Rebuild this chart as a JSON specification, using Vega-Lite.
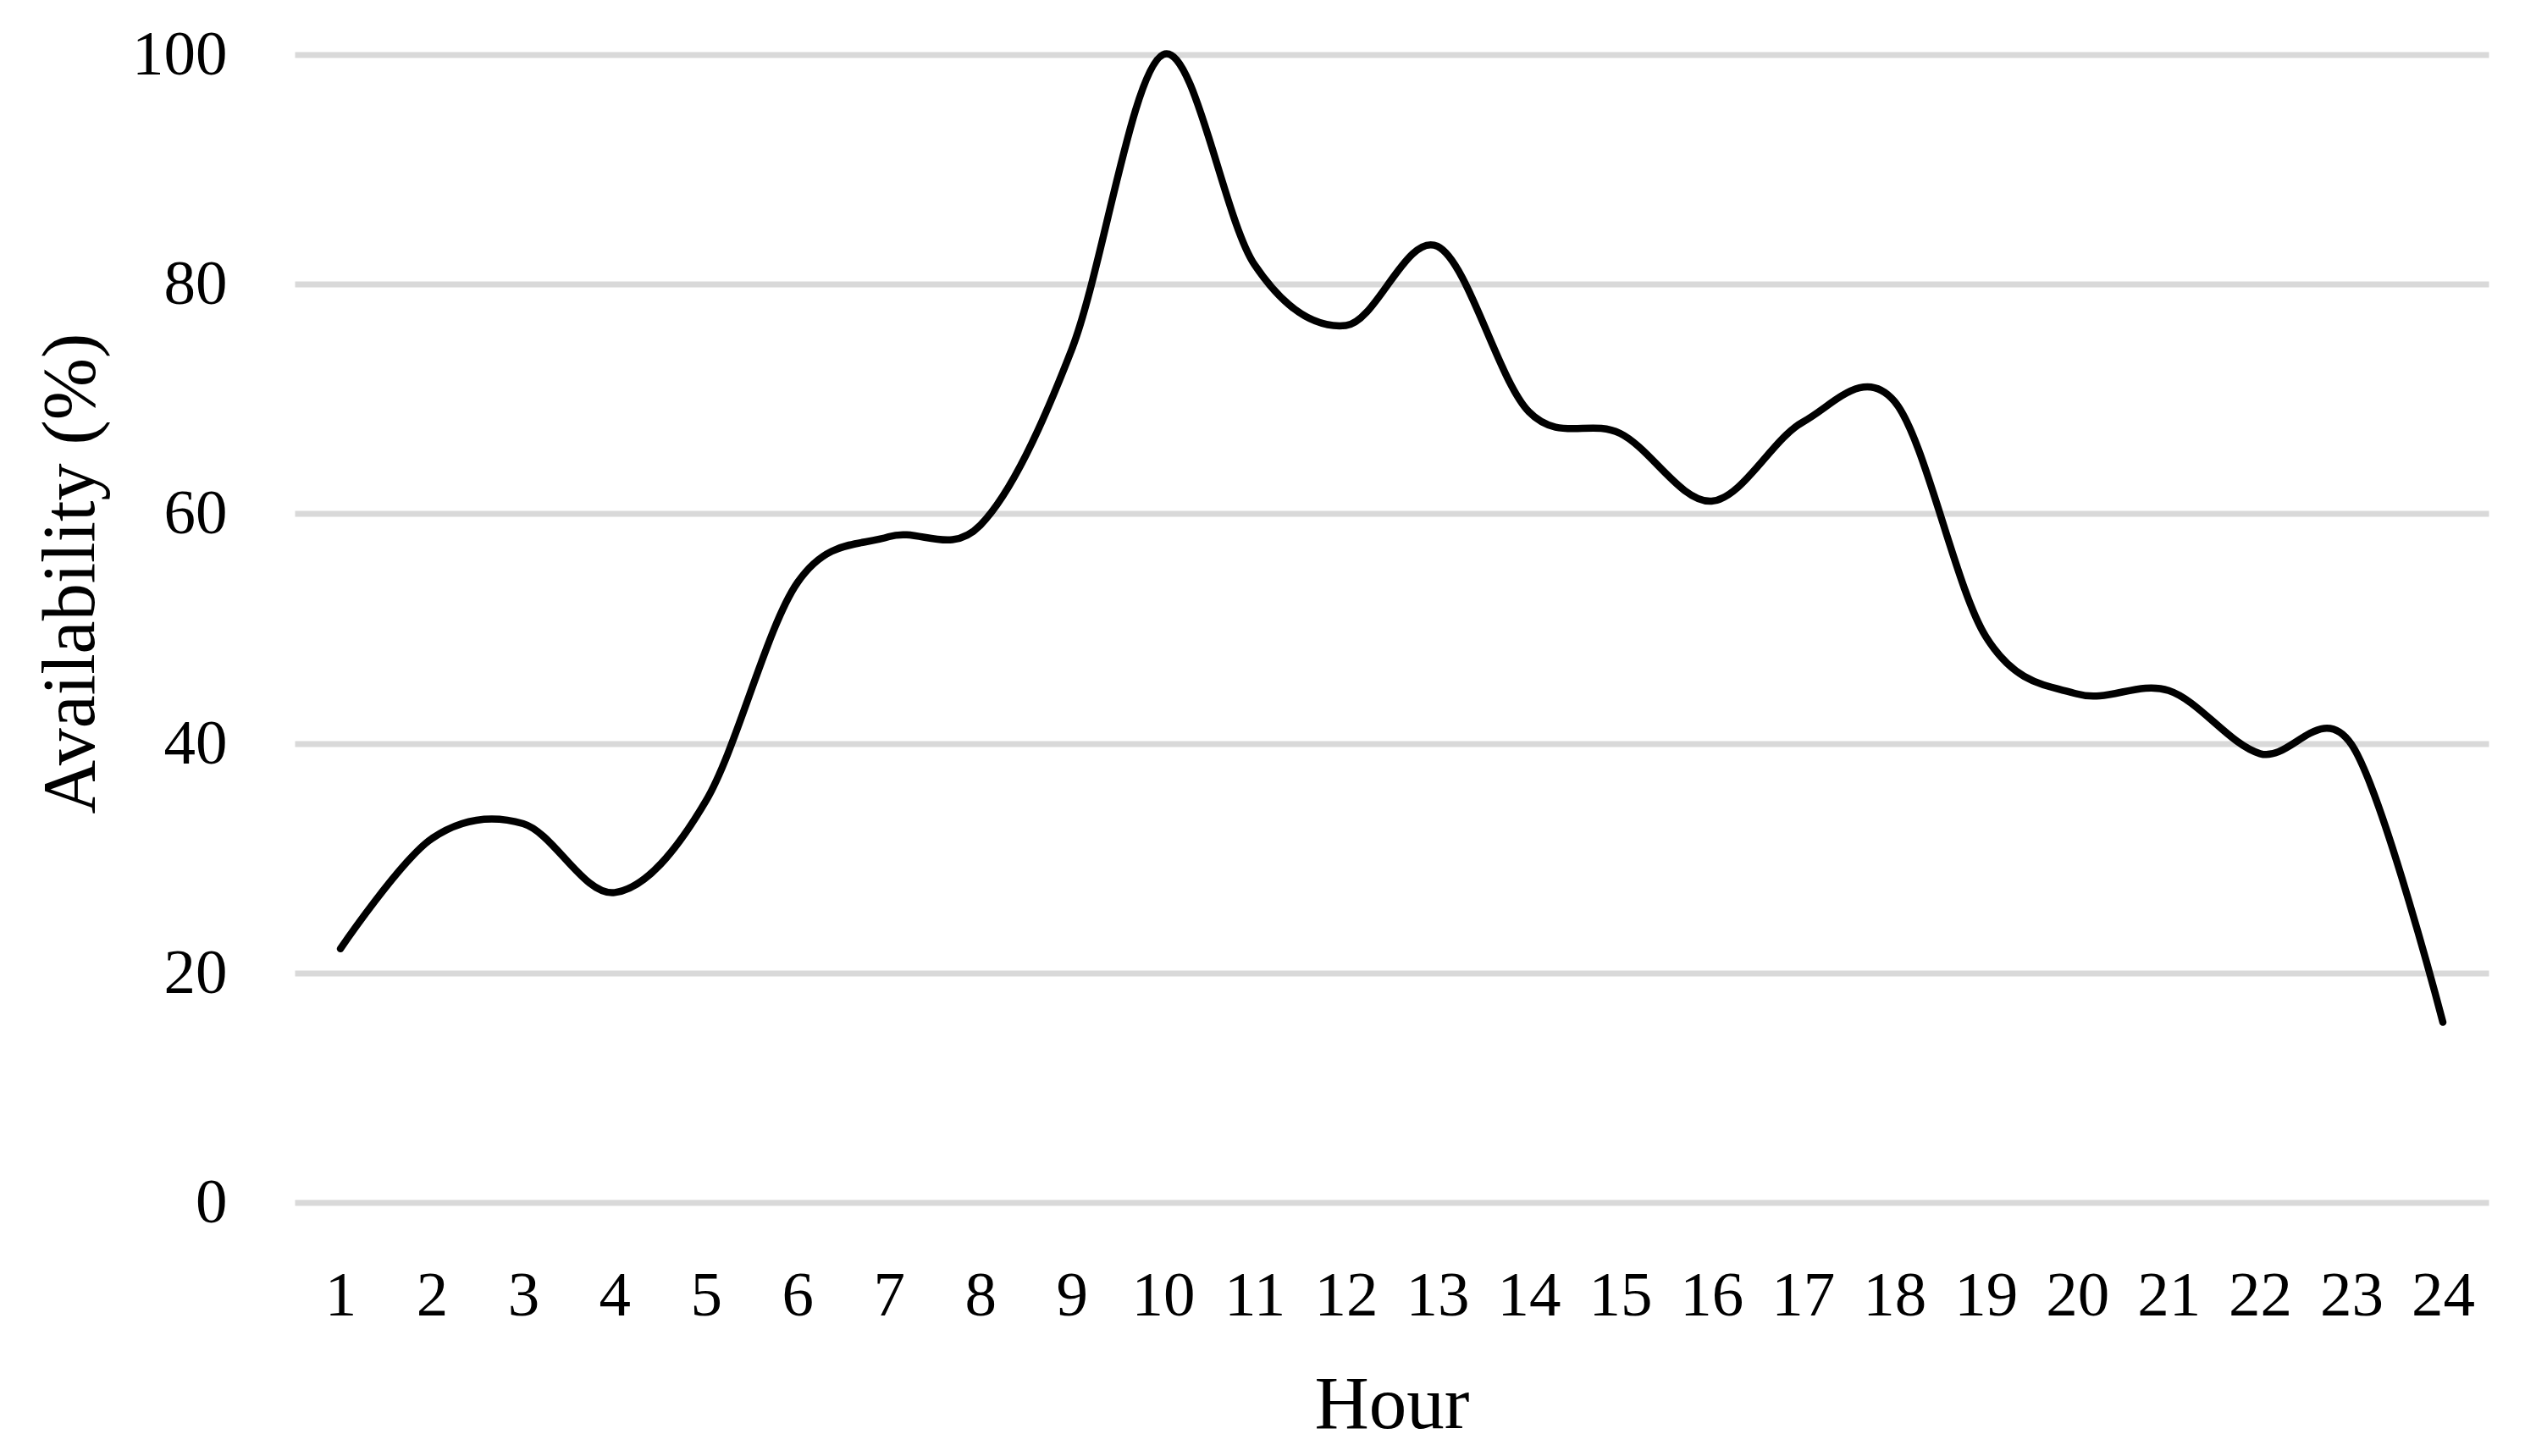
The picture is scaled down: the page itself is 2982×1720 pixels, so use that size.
{
  "$schema": "https://vega.github.io/schema/vega-lite/v6.json",
  "width": 2591,
  "height": 1356,
  "autosize": {"type": "none"},
  "padding": {"left": 348, "top": 64.5, "right": 43, "bottom": 299.5},
  "background": "white",
  "config": {"view": {"stroke": null}},
  "data": {
    "values": [
      {"hour": 1, "availability": 22.1},
      {"hour": 2, "availability": 31.7},
      {"hour": 3, "availability": 33.0},
      {"hour": 4, "availability": 27.0},
      {"hour": 5, "availability": 35.0},
      {"hour": 6, "availability": 54.0},
      {"hour": 7, "availability": 58.0},
      {"hour": 8, "availability": 59.0},
      {"hour": 9, "availability": 74.3},
      {"hour": 10, "availability": 100},
      {"hour": 11, "availability": 81.7},
      {"hour": 12, "availability": 76.4},
      {"hour": 13, "availability": 83.3},
      {"hour": 14, "availability": 68.9},
      {"hour": 15, "availability": 67.0},
      {"hour": 16, "availability": 61.1},
      {"hour": 17, "availability": 68.0},
      {"hour": 18, "availability": 69.8},
      {"hour": 19, "availability": 49.3},
      {"hour": 20, "availability": 44.3},
      {"hour": 21, "availability": 44.6},
      {"hour": 22, "availability": 39.1},
      {"hour": 23, "availability": 39.9},
      {"hour": 24, "availability": 15.7}
    ]
  },
  "mark": {
    "type": "line",
    "interpolate": "cardinal",
    "tension": 0,
    "color": "#000000",
    "strokeWidth": 8.5,
    "strokeCap": "round",
    "strokeJoin": "round"
  },
  "encoding": {
    "x": {
      "field": "hour",
      "type": "ordinal",
      "scale": {"type": "point", "padding": 0.5},
      "axis": {
        "title": "Hour",
        "labelAngle": 0,
        "domain": false,
        "ticks": false,
        "tickSize": 0,
        "grid": false,
        "labelFont": "Liberation Serif",
        "labelFontSize": 75,
        "labelColor": "#000000",
        "labelPadding": 132.5,
        "labelBaseline": "alphabetic",
        "labelOverlap": false,
        "titleFont": "Liberation Serif",
        "titleFontSize": 89,
        "titleFontWeight": "normal",
        "titleColor": "#000000",
        "titleY": 265.5,
        "titleBaseline": "alphabetic"
      }
    },
    "y": {
      "field": "availability",
      "type": "quantitative",
      "scale": {"domain": [0, 100], "nice": false, "zero": true},
      "axis": {
        "values": [0, 20, 40, 60, 80, 100],
        "title": "Availability (%)",
        "grid": true,
        "gridColor": "#d9d9d9",
        "gridWidth": 7,
        "domain": false,
        "ticks": false,
        "tickSize": 0,
        "labelFont": "Liberation Serif",
        "labelFontSize": 75,
        "labelColor": "#000000",
        "labelPadding": 80,
        "labelBaseline": "middle",
        "titleFont": "Liberation Serif",
        "titleFontSize": 88,
        "titleFontWeight": "normal",
        "titleColor": "#000000",
        "titleX": -238,
        "titleY": 612.5,
        "titleAngle": 270,
        "titleAlign": "center",
        "titleBaseline": "alphabetic"
      }
    }
  }
}
